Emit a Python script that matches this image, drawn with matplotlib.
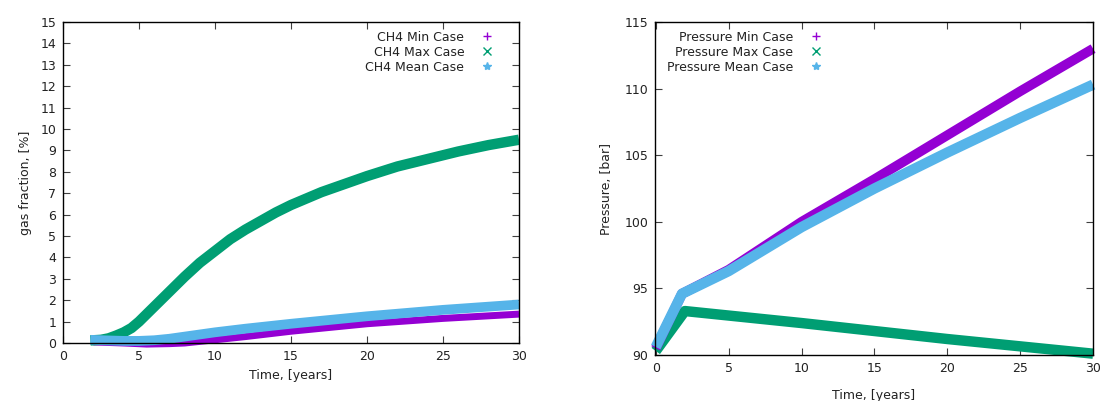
import matplotlib.pyplot as plt
from matplotlib.lines import Line2D

# gas fraction runs, time in years
ch4_max_t = [1.8, 2.5, 3.0, 3.5, 4.0, 4.5, 5.0, 6.0, 7.0, 8.0, 9.0, 10.0, 11.0, 12.0, 13.0,
             14.0, 15.0, 16.0, 17.0, 18.0, 19.0, 20.0, 22.0, 24.0, 26.0, 28.0, 30.0]
ch4_max = [0.12, 0.15, 0.22, 0.35, 0.5, 0.7, 1.0, 1.7, 2.4, 3.1, 3.75, 4.3, 4.85, 5.3, 5.7,
           6.1, 6.45, 6.75, 7.05, 7.3, 7.55, 7.8, 8.25, 8.6, 8.95, 9.25, 9.5]
ch4_mean_t = [1.8, 3.0, 4.0, 5.0, 6.0, 7.0, 8.0, 10.0, 12.0, 15.0, 20.0, 25.0, 30.0]
ch4_mean = [0.15, 0.12, 0.1, 0.1, 0.13, 0.2, 0.3, 0.5, 0.67, 0.9, 1.25, 1.55, 1.8]
ch4_min_t = [2.0, 4.0, 5.5, 7.0, 8.0, 10.0, 12.0, 15.0, 20.0, 25.0, 30.0]
ch4_min = [0.05, 0.0, -0.05, -0.03, 0.0, 0.15, 0.3, 0.55, 0.9, 1.15, 1.35]

# pressure runs
p_t = [0.0, 1.8, 5.0, 10.0, 15.0, 20.0, 25.0, 30.0]
p_min = [90.5, 94.6, 96.4, 100.0, 103.2, 106.5, 109.8, 113.0]
p_mean = [90.6, 94.6, 96.3, 99.6, 102.5, 105.2, 107.8, 110.3]
p_max_t = [0.0, 2.0, 10.0, 20.0, 30.0]
p_max = [90.3, 93.3, 92.4, 91.2, 90.1]

purple = '#9400d3'
green = '#009e73'
blue = '#56b4e9'

plt.rcParams['font.family'] = 'DejaVu Sans'
plt.rcParams['font.size'] = 9
plt.rcParams['text.color'] = '#222222'
plt.rcParams['axes.labelcolor'] = '#222222'
plt.rcParams['xtick.labelcolor'] = '#222222'
plt.rcParams['ytick.labelcolor'] = '#222222'

fig = plt.figure(figsize=(11.02, 4.01), dpi=100)
ax1 = fig.add_axes([0.0572, 0.1446, 0.4138, 0.8005])
ax2 = fig.add_axes([0.5944, 0.1147, 0.3975, 0.8304])


def style_axes(ax):
    ax.tick_params(direction='in', top=True, right=True, length=5, width=0.8,
                   color='#404040', labelsize=9, pad=5)
    for s in ax.spines.values():
        s.set_linewidth(1.0)
        s.set_color('black')


def legend_handles(labels):
    marks = [('+', purple), ('x', green), ('*', blue)]
    return [Line2D([], [], linestyle='none', marker=m, color=c, markersize=6,
                   markeredgewidth=1.0, label=l) for (m, c), l in zip(marks, labels)]


# left: gas fraction
ax1.plot(ch4_max_t, ch4_max, color=green, lw=7.5, solid_capstyle='butt', clip_on=False)
ax1.plot(ch4_min_t, ch4_min, color=purple, lw=5, solid_capstyle='butt', zorder=1.9,
         clip_on=False)
ax1.plot(ch4_mean_t, ch4_mean, color=blue, lw=7, solid_capstyle='butt', zorder=2.1,
         clip_on=False)
ax1.set_xlim(0, 30)
ax1.set_ylim(0, 15)
ax1.set_xticks(range(0, 31, 5))
ax1.set_yticks(range(0, 16))
ax1.set_xlabel('Time, [years]', labelpad=4)
ax1.set_ylabel('gas fraction, [%]', labelpad=6)
style_axes(ax1)
ax1.legend(handles=legend_handles(['CH4 Min Case', 'CH4 Max Case', 'CH4 Mean Case']),
           loc='upper right', bbox_to_anchor=(0.965, 1.0), frameon=False,
           markerfirst=False, handlelength=1.2, handletextpad=1.2, labelspacing=0.15,
           borderaxespad=0.3, fontsize=9)

# right: pressure
ax2.plot(p_max_t, p_max, color=green, lw=7.5, solid_capstyle='butt', clip_on=False)
ax2.plot(p_t, p_min, color=purple, lw=7, solid_capstyle='butt', clip_on=False)
ax2.plot(p_t, p_mean, color=blue, lw=7.5, solid_capstyle='butt', clip_on=False)
ax2.set_xlim(-0.05, 30)
ax2.set_ylim(90, 115)
ax2.set_xticks(range(0, 31, 5))
ax2.set_yticks(range(90, 116, 5))
ax2.set_xlabel('Time, [years]', labelpad=10)
ax2.set_ylabel('Pressure, [bar]', labelpad=8)
style_axes(ax2)
ax2.legend(handles=legend_handles(['Pressure Min Case', 'Pressure Max Case',
                                   'Pressure Mean Case']),
           loc='upper left', bbox_to_anchor=(0.007, 1.0), frameon=False, markerfirst=False,
           handlelength=1.2, handletextpad=1.2, labelspacing=0.15, borderaxespad=0.3,
           fontsize=9)

fig.savefig('out.png', dpi=100)
